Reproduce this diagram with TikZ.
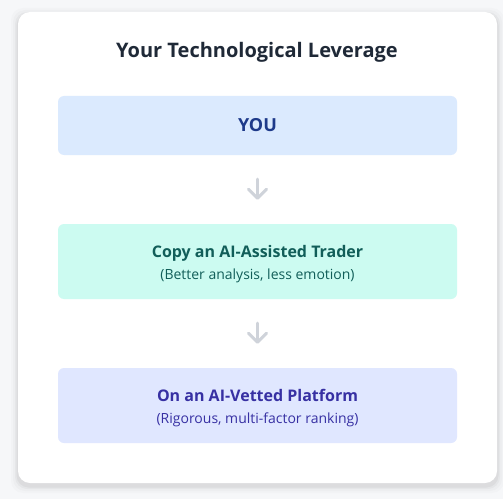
\documentclass[tikz,border=0pt]{standalone}
\usepackage{fontspec}
\setmainfont{Open Sans}
\usetikzlibrary{arrows.meta}
\definecolor{pagebg}{HTML}{F6F7F9}
\definecolor{titlec}{HTML}{1F2937}
\definecolor{youfill}{HTML}{DBEAFE}
\definecolor{youtext}{HTML}{1E3A8A}
\definecolor{copyfill}{HTML}{CCFBF1}
\definecolor{copytext}{HTML}{115E59}
\definecolor{platfill}{HTML}{E0E7FF}
\definecolor{plattext}{HTML}{3730A3}
\definecolor{arrowc}{HTML}{CFD3DA}
\tikzset{
  stepbox/.style={rounded corners=6pt, minimum width=399pt, inner sep=0pt},
  steptext/.style={align=center, inner sep=0pt, font=\fontsize{14}{22}\selectfont},
  flowarrow/.style={draw=arrowc, line width=3pt, line cap=round,
    -{Straight Barb[length=9pt,width=18pt,round]}},
}
\begin{document}
\begin{tikzpicture}[x=1pt,y=1pt]
\useasboundingbox (0,0) rectangle (503,499);
\fill[pagebg] (0,0) rectangle (503,499);
% shadow
\foreach \i/\o in {7/0.015,5/0.02,3/0.03,1.5/0.04}{
  \fill[black,opacity=\o,rounded corners=12pt] (18-\i,16-\i-3) rectangle (497+\i,487+\i-3);
}
\node[fill=white, rounded corners=12pt, minimum width=479pt, minimum height=471pt, inner sep=0pt] (card) at (257.5,251.5) {};
\node[font=\fontsize{20}{24}\selectfont\bfseries, text=titlec] (title) at (257,447) {Your Technological Leverage};
\node[stepbox, fill=youfill, minimum height=59pt, font=\fontsize{18}{22}\selectfont\bfseries, text=youtext] (you) at (257.5,373.5) {YOU};
\node[stepbox, fill=copyfill, minimum height=75pt] (copy) at (257.5,237.5) {};
\node[steptext, text=copytext, yshift=-2.5pt] (copyt) at (copy.center)
  {{\fontsize{16}{22}\selectfont\bfseries Copy an AI-Assisted Trader}\\(Better analysis, less emotion)};
\node[stepbox, fill=platfill, minimum height=75pt] (plat) at (257.5,93.5) {};
\node[steptext, text=plattext, yshift=-2.5pt] (platt) at (plat.center)
  {{\fontsize{16}{22}\selectfont\bfseries On an AI-Vetted Platform}\\(Rigorous, multi-factor ranking)};
\draw[flowarrow, shorten <=24pt, shorten >=24pt] (you.south) -- (copy.north);
\draw[flowarrow, shorten <=24pt, shorten >=24pt] (copy.south) -- (plat.north);
\end{tikzpicture}
\end{document}
